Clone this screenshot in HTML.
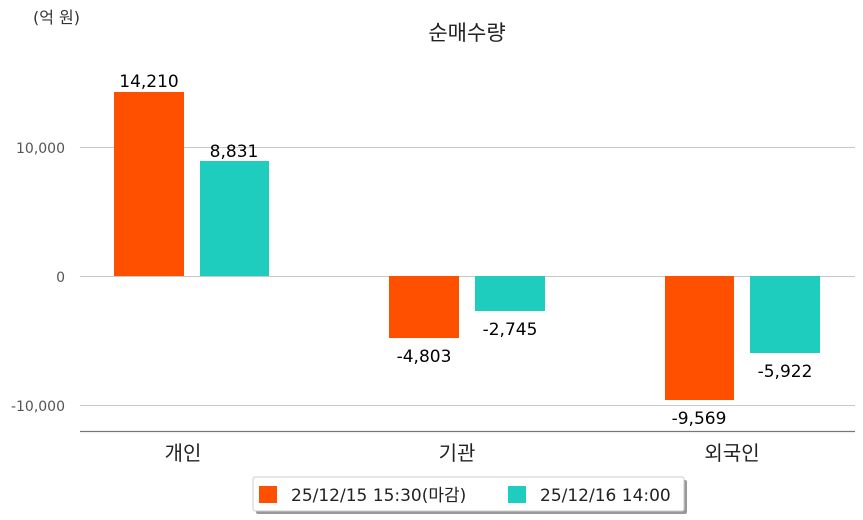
<!DOCTYPE html>
<html><head><meta charset="utf-8"><style>
html,body{margin:0;padding:0;background:#fff;}
svg{display:block;font-family:"DejaVu Sans","Noto Sans CJK KR",sans-serif;}
</style></head><body>
<svg width="863" height="520" viewBox="0 0 863 520" xmlns="http://www.w3.org/2000/svg">
<text x="33" y="23" font-size="16" fill="#333">(억 원)</text>
<text x="467" y="40" font-size="21" fill="#222" text-anchor="middle">순매수량</text>
<g stroke="#c8c8c8" stroke-width="1">
<line x1="80" y1="147.5" x2="855" y2="147.5"/>
<line x1="80" y1="276.5" x2="855" y2="276.5"/>
<line x1="80" y1="405.5" x2="855" y2="405.5"/>
</g>
<line x1="80" y1="431.5" x2="855" y2="431.5" stroke="#777" stroke-width="1.2"/>
<g font-size="14" fill="#555" text-anchor="end">
<text x="65" y="153">10,000</text>
<text x="65" y="282">0</text>
<text x="65" y="411">-10,000</text>
</g>
<g fill="#ff5000">
<rect x="114" y="92" width="70" height="184"/>
<rect x="389" y="276" width="70" height="62"/>
<rect x="665" y="276" width="69" height="124"/>
</g>
<g fill="#1ecdbd">
<rect x="200" y="161" width="69" height="115"/>
<rect x="475" y="276" width="70" height="35"/>
<rect x="750" y="276" width="70" height="77"/>
</g>
<g font-size="17" fill="#000" text-anchor="middle">
<text x="149" y="87">14,210</text>
<text x="234" y="157">8,831</text>
<text x="424" y="362">-4,803</text>
<text x="510" y="335">-2,745</text>
<text x="699" y="424">-9,569</text>
<text x="785" y="377">-5,922</text>
</g>
<g font-size="20" fill="#222" text-anchor="middle">
<text x="183" y="460">개인</text>
<text x="457" y="460">기관</text>
<text x="732" y="460">외국인</text>
</g>
<rect x="256" y="480" width="431" height="34" fill="#999" rx="2"/>
<rect x="253" y="477" width="431" height="34" fill="#fff" stroke="#ccc" rx="2"/>
<rect x="259" y="486" width="18" height="17" fill="#ff5000"/>
<text x="291" y="501" font-size="17" fill="#222">25/12/15 15:30(마감)</text>
<rect x="508" y="486" width="18" height="17" fill="#1ecdbd"/>
<text x="540" y="501" font-size="17" fill="#222">25/12/16 14:00</text>
</svg>
</body></html>
